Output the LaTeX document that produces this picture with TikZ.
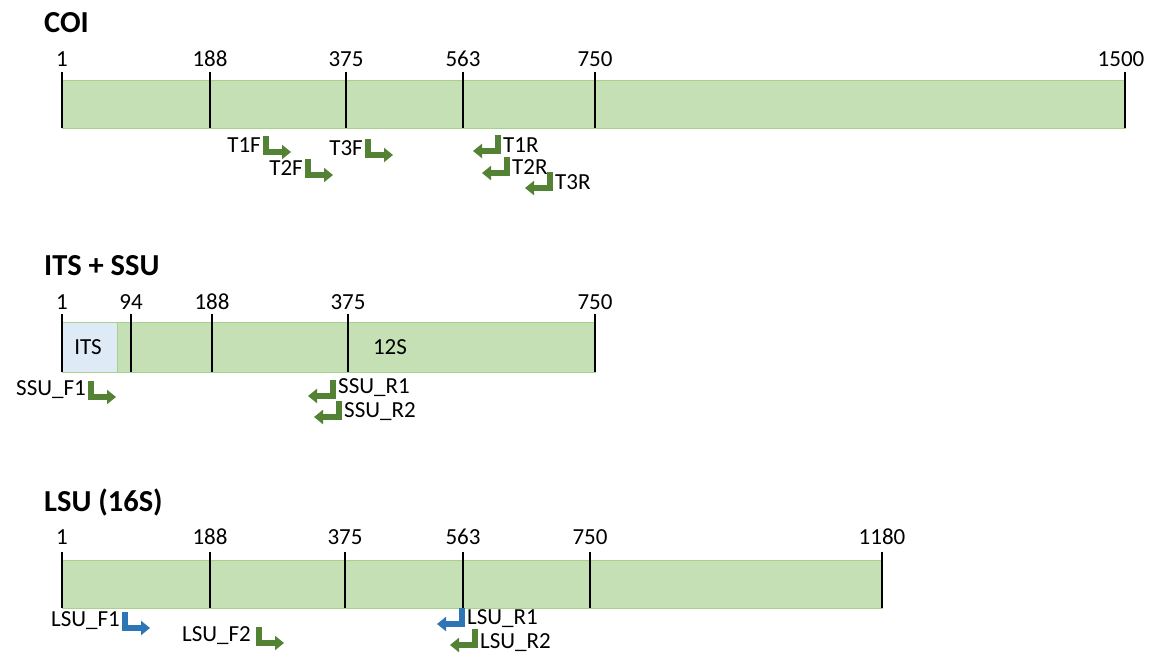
\documentclass[tikz,border=0pt]{standalone}
\usepackage{fontspec}
\setmainfont{Carlito}
\usetikzlibrary{arrows.meta}

\definecolor{barfill}{HTML}{C5E0B4}
\definecolor{barline}{HTML}{A9D18E}
\definecolor{itsfill}{HTML}{DEEBF7}
\definecolor{primgreen}{HTML}{548235}
\definecolor{primblue}{HTML}{2E75B6}

\tikzset{
  title/.style={font=\fontsize{30.5}{34}\selectfont\bfseries, anchor=west, inner sep=0pt},
  lbl/.style={font=\fontsize{23}{27}\selectfont, inner sep=0pt},
  gene/.style={draw=barline, fill=barfill, line width=1pt},
  marker/.style={line width=1.8pt},
  pics/fwd/.style={code={\draw[line width=5.5pt, -{Triangle[width=14pt,length=9pt]}] (0,0) -- (0,16) -- (25,16);}},
  pics/rev/.style={code={\draw[line width=5.5pt, -{Triangle[width=14pt,length=9pt]}] (0,0) -- (0,16) -- (-25,16);}},
}

\begin{document}
\begin{tikzpicture}[x=1pt,y=-1pt]
  \useasboundingbox (0,0) rectangle (1153,661);

  % COI
  \node[title] (coititle) at (44,23) {COI};
  \draw[gene] (62,80) rectangle (1125,128);
  \foreach \x/\t/\n in {62/1/c1,210/188/c188,346/375/c375,463/563/c563,595/750/c750,1121/1500/c1500}{
    \node[lbl] (\n) at (\x,59) {\t};
  }
  \foreach \x in {62,210,346,463,595,1125}{
    \draw[marker] (\x,72) -- (\x,128);
  }
  \foreach \x/\y/\t/\n in {266/136/T1F/t1f,308/159/T2F/t2f,368/139/T3F/t3f}{
    \pic[primgreen] at (\x,\y) {fwd};
    \node[lbl, anchor=east] (\n) at (\x-5,\y+9) {\t};
  }
  \foreach \x/\y/\t/\n in {498/135/T1R/t1r,507/157/T2R/t2r,550/172/T3R/t3r}{
    \pic[primgreen] at (\x,\y) {rev};
    \node[lbl, anchor=west] (\n) at (\x+5,\y+10) {\t};
  }

  % ITS + SSU
  \node[title] (ssutitle) at (44,266) {ITS + SSU};
  \draw[gene] (62,322) rectangle (595,372);
  \draw[draw=barline, fill=itsfill, line width=1pt] (62,322) rectangle (117,372);
  \node[lbl] (its) at (88,347) {ITS};
  \node[lbl] (s12) at (390,347) {12S};
  \foreach \x/\t/\n in {62/1/s1,131/94/s94,212/188/s188,348/375/s375,595/750/s750}{
    \draw[marker] (\x,314) -- (\x,372);
    \node[lbl] (\n) at (\x,302) {\t};
  }
  \pic[primgreen] at (91,381) {fwd};
  \node[lbl, anchor=east] (ssuf1) at (86,390) {SSU\_F1};
  \pic[primgreen] at (333,380) {rev};
  \node[lbl, anchor=west] (ssur1) at (338,388) {SSU\_R1};
  \pic[primgreen] at (339,401) {rev};
  \node[lbl, anchor=west] (ssur2) at (344,412) {SSU\_R2};

  % LSU (16S)
  \node[title] (lsutitle) at (44,502) {LSU (16S)};
  \draw[gene] (62,560) rectangle (882,608);
  \foreach \x/\t/\n in {62/1/l1,210/188/l188,345/375/l375,463/563/l563,590/750/l750,882/1180/l1180}{
    \draw[marker] (\x,552) -- (\x,608);
    \node[lbl] (\n) at (\x,537) {\t};
  }
  \pic[primblue] at (125,612) {fwd};
  \node[lbl, anchor=east] (lsuf1) at (120,621) {LSU\_F1};
  \pic[primgreen] at (259,627) {fwd};
  \node[lbl, anchor=east] (lsuf2) at (251,636) {LSU\_F2};
  \pic[primblue] at (462,608) {rev};
  \node[lbl, anchor=west] (lsur1) at (467,619) {LSU\_R1};
  \pic[primgreen] at (475,629) {rev};
  \node[lbl, anchor=west] (lsur2) at (480,643) {LSU\_R2};
\end{tikzpicture}
\end{document}
